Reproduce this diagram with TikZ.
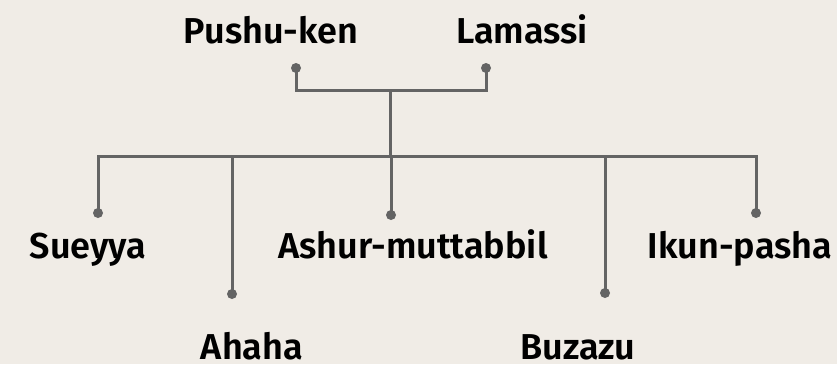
\documentclass[tikz,border=0pt]{standalone}
\usepackage{fontspec}
\setmainfont{Fira Sans}[BoldFont={Fira Sans SemiBold}]
\definecolor{paper}{RGB}{240,236,230}
\definecolor{wire}{RGB}{100,100,100}
\begin{document}
\begin{tikzpicture}[x=1pt,y=-1pt,
  kin/.style={font=\fontsize{36}{40}\selectfont\bfseries, text=black, inner sep=0pt, anchor=base},
  wire/.style={draw=wire, line width=3pt},
  pin/.style={circle, fill=wire, inner sep=0pt, minimum size=10pt}]
  \fill[paper] (0,0) rectangle (837,364);
  \useasboundingbox (0,0) rectangle (837,364);
  % parents
  \node[kin] (pk) at (271,43) {Pushu-ken};
  \node[kin] (lm) at (522,43) {Lamassi};
  \node[pin] (pkd) at (296,68) {};
  \node[pin] (lmd) at (486,68) {};
  \coordinate (join) at (390,90);
  \coordinate (bus) at (390,156);
  \draw[wire] (pkd.center) |- (join) -| (lmd.center);
  \draw[wire] (join) -- (bus);
  % children
  \node[kin] (su) at (88,258) {Sueyya};
  \node[kin] (ah) at (252,359) {Ahaha};
  \node[kin] (as) at (413,258) {Ashur-muttabbil};
  \node[kin] (bu) at (578,359) {Buzazu};
  \node[kin] (ik) at (740,258) {Ikun-pasha};
  \node[pin] (sud) at (98,213) {};
  \node[pin] (ahd) at (232,294) {};
  \node[pin] (asd) at (391,215) {};
  \node[pin] (bud) at (605,293) {};
  \node[pin] (ikd) at (756,213) {};
  \draw[wire] (sud.center) |- (bus) -| (ikd.center);
  \draw[wire] (ahd.center) -- (ahd.center |- bus);
  \draw[wire] (asd.center) -- (asd.center |- bus);
  \draw[wire] (bud.center) -- (bud.center |- bus);
\end{tikzpicture}
\end{document}
